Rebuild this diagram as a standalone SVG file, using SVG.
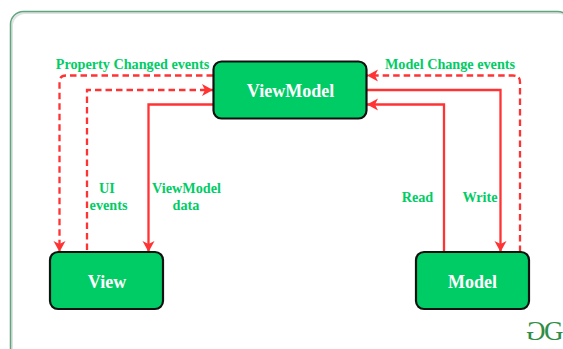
<svg xmlns="http://www.w3.org/2000/svg" width="563" height="349" viewBox="0 0 563 349">
<style>
text{font-family:"Liberation Serif","Times New Roman",serif;font-weight:bold}
.lab{fill:#00cc66;font-size:14.200px;text-anchor:middle}
.nt{fill:#fff;font-size:18px;text-anchor:middle}
.node{fill:#00cc66;stroke:#111;stroke-width:2.200}
.c{fill:none;stroke:#ff3333;stroke-width:2.300}
.d{stroke-dasharray:6.500 4}
.g{fill:#2f8d46;font-size:27px;font-weight:normal}
</style>
<defs>
<marker id="a" markerUnits="userSpaceOnUse" markerWidth="14" markerHeight="14" refX="12" refY="7" orient="auto"><path d="M1 1L12 7L1 13L4 7Z" fill="#ff3333"/></marker>
</defs>
<rect width="563" height="349" fill="#fff"/>
<rect x="12" y="13" width="560" height="350" rx="13" fill="none" stroke="#dfe3e2" stroke-width="2"/>
<rect x="10.500" y="11.500" width="560" height="350" rx="13" fill="none" stroke="#5fa57d" stroke-width="1.500"/>
<g id="connectors">
<path class="c d" d="M213 75.500H66Q59.500 75.500 59.500 82V252" marker-end="url(#a)"/>
<path class="c d" d="M87 250V90H213" marker-end="url(#a)"/>
<path class="c" d="M213 104.500H148.500V252" marker-end="url(#a)"/>
<path class="c" d="M367 90H500.500V252" marker-end="url(#a)"/>
<path class="c" d="M444 252V104.500H367" marker-end="url(#a)"/>
<path class="c d" d="M520 252V82Q520 75.500 513 75.500H367" marker-end="url(#a)"/>
</g>
<g id="viewmodel"><rect class="node" x="213.500" y="61.500" width="153" height="57" rx="8"/><text class="nt" x="290.500" y="97">ViewModel</text></g>
<g id="view"><rect class="node" x="50" y="252" width="113" height="57" rx="8"/><text class="nt" x="107" y="288">View</text></g>
<g id="model"><rect class="node" x="416" y="252" width="113" height="57" rx="8"/><text class="nt" x="472.500" y="288">Model</text></g>
<g id="labels">
<text class="lab" x="132.500" y="69">Property Changed events</text>
<text class="lab" x="450" y="69">Model Change events</text>
<text class="lab" x="107" y="193">UI</text>
<text class="lab" x="108.500" y="210">events</text>
<text class="lab" x="186.500" y="193">ViewModel</text>
<text class="lab" x="186" y="210">data</text>
<text class="lab" x="417.500" y="202">Read</text>
<text class="lab" x="480" y="202">Write</text>
</g>
<g id="logo">
<text class="g" transform="translate(545.500 340) scale(-1 1)" x="0" y="0">G</text>
<text class="g" x="544" y="340">G</text>
</g>
</svg>
